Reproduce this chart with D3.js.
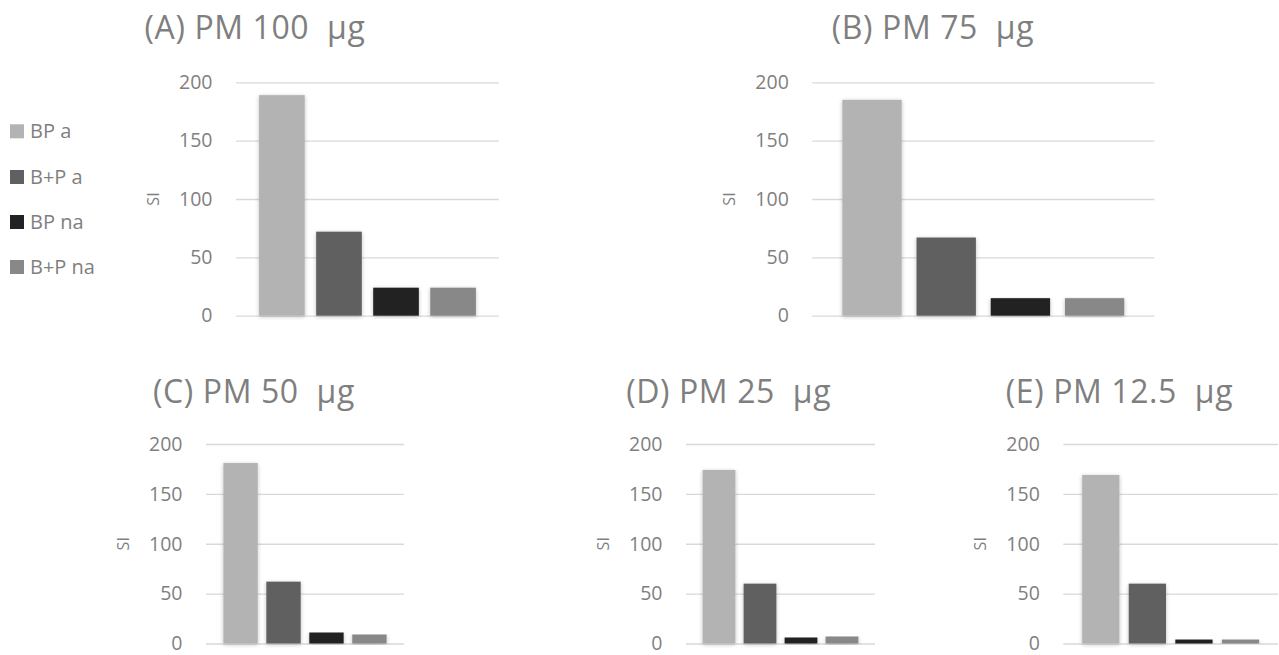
<!DOCTYPE html>
<html>
<head>
<meta charset="utf-8">
<script src="https://cdn.jsdelivr.net/npm/d3@7"></script>
<style>
  html, body { margin: 0; padding: 0; background: #fff; }
  svg { display: block; font-family: "Open Sans", "DejaVu Sans", sans-serif; }
</style>
</head>
<body>
<svg id="chart" width="1279" height="655"></svg>
<script>
// ---- data ----
const panelTitles = ["(A) PM 100  μg", "(B) PM 75  μg", "(C) PM 50  μg", "(D) PM 25  μg", "(E) PM 12.5  μg"];
const seriesNames = ["BP a", "B+P a", "BP na", "B+P na"];
const seriesColors = ["#b3b3b3", "#606060", "#222222", "#888888"];
const valuesBPa     = [189, 185, 181, 174, 169];
const valuesBPlusPa = [72, 67, 62, 60, 60];
const valuesBPna    = [24, 15, 11, 6, 4];
const valuesBPlusPna= [24, 15, 9, 7, 4];
const yTicks = [0, 50, 100, 150, 200];
const yAxisTitle = "SI";

// ---- layout (pixel boxes for each panel) ----
const layout = [
  { x0: 236,   x1: 499,  yTop: 82.3, yBot: 315.7, titleX: 255, titleY: 39 },
  { x0: 812.3, x1: 1154.3, yTop: 82.3, yBot: 315.7, titleX: 933, titleY: 39 },
  { x0: 206,   x1: 404,  yTop: 444, yBot: 643.5, titleX: 254, titleY: 402.5 },
  { x0: 686,   x1: 875,  yTop: 444, yBot: 643.5, titleX: 728.7, titleY: 402.5 },
  { x0: 1063.3, x1: 1278, yTop: 444, yBot: 643.5, titleX: 1119.5, titleY: 402.5 }
];

const allSeries = [valuesBPa, valuesBPlusPa, valuesBPna, valuesBPlusPna];
const textColor = "#7f7f7f";
const gridColor = "#d9d9d9";

const svg = d3.select("#chart");

// soft shadow like the spreadsheet bars
const defs = svg.append("defs");
const f = defs.append("filter").attr("id", "shadow")
  .attr("x", "-30%").attr("y", "-10%").attr("width", "160%").attr("height", "120%");
f.append("feGaussianBlur").attr("in", "SourceAlpha").attr("stdDeviation", 2).attr("result", "blur");
f.append("feOffset").attr("in", "blur").attr("dx", 0).attr("dy", 1).attr("result", "off");
f.append("feComponentTransfer").attr("in", "off").attr("result", "soft")
  .append("feFuncA").attr("type", "linear").attr("slope", 0.25);
const fm = f.append("feMerge");
fm.append("feMergeNode").attr("in", "soft");
fm.append("feMergeNode").attr("in", "SourceGraphic");

layout.forEach((L, pi) => {
  const g = svg.append("g");
  const y = d3.scaleLinear().domain([0, 200]).range([L.yBot, L.yTop]);
  const x = d3.scaleBand().domain(seriesNames).range([L.x0, L.x1])
    .paddingInner(0.2).paddingOuter(0.405);

  // gridlines + tick labels via axis
  const axis = d3.axisLeft(y).tickValues(yTicks).tickSize(-(L.x1 - L.x0)).tickPadding(23.5);
  const ag = g.append("g").attr("transform", `translate(${L.x0},0)`).call(axis);
  ag.select(".domain").remove();
  ag.selectAll(".tick line").attr("stroke", gridColor).attr("stroke-width", 1.3);
  ag.selectAll(".tick text").attr("fill", textColor)
    .style("font-size", "19.5px").style("font-family", '"Open Sans", sans-serif');

  // bars
  g.selectAll("rect.bar").data(seriesNames).enter().append("rect")
    .attr("class", "bar")
    .attr("x", d => x(d))
    .attr("width", x.bandwidth())
    .attr("y", (d, i) => y(allSeries[i][pi]))
    .attr("height", (d, i) => y(0) - y(allSeries[i][pi]))
    .attr("fill", (d, i) => seriesColors[i])
    .attr("filter", "url(#shadow)");

  // axis title
  const midY = (L.yTop + L.yBot) / 2;
  g.append("text")
    .attr("transform", `translate(${L.x0 - 82.5},${midY}) rotate(-90)`)
    .attr("text-anchor", "middle").attr("dy", "0.35em")
    .attr("fill", textColor).style("font-size", "16px")
    .text(yAxisTitle);

  // panel title
  g.append("text")
    .attr("x", L.titleX).attr("y", L.titleY)
    .attr("text-anchor", "middle")
    .attr("fill", textColor).style("font-size", "32px")
    .style("letter-spacing", "0.6px")
    .style("white-space", "pre").attr("xml:space", "preserve")
    .text(panelTitles[pi]);
});

// legend
const leg = svg.append("g");
const legendY = [131.3, 177, 222, 267];
seriesNames.forEach((s, i) => {
  leg.append("rect").attr("x", 10).attr("y", legendY[i] - 7).attr("width", 14).attr("height", 14)
    .attr("fill", seriesColors[i]);
  leg.append("text").attr("x", 30).attr("y", legendY[i]).attr("dy", "0.35em")
    .attr("fill", textColor).style("font-size", "20px").text(s);
});
</script>
</body>
</html>
